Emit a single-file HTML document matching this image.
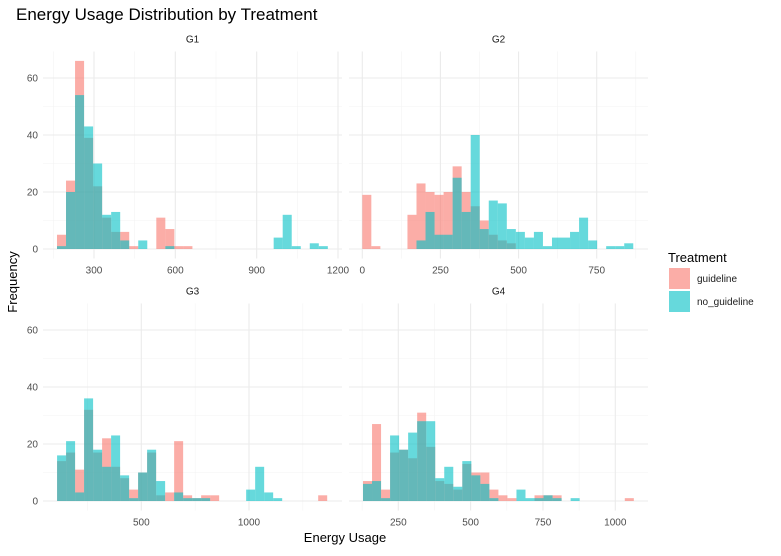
<!DOCTYPE html>
<html><head><meta charset="utf-8"><style>
body{margin:0;background:#fff;}
svg{font-family:"Liberation Sans",Arial,sans-serif;}
</style></head><body>
<svg id="chart" width="781" height="551" viewBox="0 0 781 551">
<text x="16" y="20" font-size="17" fill="#000">Energy Usage Distribution by Treatment</text>
<text x="345" y="542" font-size="13" text-anchor="middle" fill="#000">Energy Usage</text>
<text transform="translate(17,282) rotate(-90)" font-size="13" text-anchor="middle" fill="#000">Frequency</text>
<g>
<text x="668" y="262" font-size="13" fill="#000">Treatment</text>
<rect x="669" y="268" width="21" height="21" fill="rgba(248,118,109,0.6)"/>
<text x="697" y="282" font-size="10" fill="#1a1a1a">guideline</text>
<rect x="669" y="291" width="21" height="21" fill="rgba(0,191,196,0.6)"/>
<text x="697" y="305" font-size="10" fill="#1a1a1a">no_guideline</text>
</g>
<g id="panels"></g>
</svg>
<script>
const panelNames = ["G1","G2","G3","G4"];
const binStarts = [163.5, 0, 109, 128];
const binWidths = [33.3, 28.9, 41.8, 31.2];
const g1Guideline = [5,24,66,39,22,11,6,6,1,0,0,11,7,1,1,0,0,0,0,0,0,0,0,0,0,0,0,0,0,0];
const g1NoGuideline = [1,20,54,43,30,12,13,3,0,3,0,0,1,0,0,0,0,0,0,0,0,0,0,0,4,12,1,0,2,1];
const g2Guideline = [19,1,0,0,0,12,23,20,19,20,29,20,15,10,5,3,2,0,0,0,0,0,0,0,0,0,0,0,0,0];
const g2NoGuideline = [0,0,0,0,0,0,3,13,5,5,25,13,40,7,17,16,7,6,4,6,1,4,4,6,11,3,0,1,1,2];
const g3Guideline = [14,17,11,32,17,22,12,8,4,10,17,2,3,21,2,1,2,2,0,0,0,0,0,0,0,0,0,0,0,2];
const g3NoGuideline = [16,21,3,36,18,12,23,9,1,10,18,7,0,3,1,1,1,0,0,0,0,4,12,3,1,0,0,0,0,0];
const g4Guideline = [7,27,4,17,18,15,31,19,7,6,4,13,10,10,4,2,1,0,0,2,2,2,0,0,0,0,0,0,0,1];
const g4NoGuideline = [6,7,1,23,18,24,28,28,8,12,5,14,9,6,1,0,0,4,1,1,2,1,0,1,0,0,0,0,0,0];
const yTicks = [0,20,40,60];
const yMinor = [10,30,50];
const xMajorTicks = [[300,600,900,1200],[0,250,500,750],[500,1000],[250,500,750,1000]];
const xMinorTicks = [[150,450,750,1050],[125,375,625,875],[250,750,1250],[125,375,625,875]];
const xTickLabels = [["300","600","900","1200"],["0","250","500","750"],["500","1000"],["250","500","750","1000"]];

const guide=[g1Guideline,g2Guideline,g3Guideline,g4Guideline];
const noguide=[g1NoGuideline,g2NoGuideline,g3NoGuideline,g4NoGuideline];
const layout=[
 {x0:43,x1:342,top:51.5,bot:258.5,zeroY:249,ax:300,apx:94,bx:1200,bpx:338},
 {x0:349,x1:648,top:51.5,bot:258.5,zeroY:249,ax:0,apx:362.3,bx:750,bpx:596.7},
 {x0:43,x1:342,top:303.5,bot:510.5,zeroY:501,ax:500,apx:141.3,bx:1000,bpx:249},
 {x0:349,x1:648,top:303.5,bot:510.5,zeroY:501,ax:250,apx:398.3,bx:1000,bpx:615.3}
];
const NS="http://www.w3.org/2000/svg";
const root=document.getElementById('panels');
function mk(tag,attrs,parent){const e=document.createElementNS(NS,tag);for(const k in attrs)e.setAttribute(k,attrs[k]);parent.appendChild(e);return e;}
const yScale=(L,v)=>L.zeroY-v*2.85;
for(let p=0;p<4;p++){
 const L=layout[p];
 const xs=v=>L.apx+(v-L.ax)*(L.bpx-L.apx)/(L.bx-L.ax);
 const g=mk('g',{},root);
 
 
 yMinor.forEach(v=>{const l=mk('line',{x1:L.x0,x2:L.x1,y1:yScale(L,v),y2:yScale(L,v),stroke:'#f3f3f3','stroke-width':0.6},g);
  });
 xMinorTicks[p].forEach(v=>{const x=xs(v);if(x<L.x0||x>L.x1)return;const l=mk('line',{x1:x,x2:x,y1:L.top,y2:L.bot,stroke:'#f3f3f3','stroke-width':0.6},g);
  });
 yTicks.forEach(v=>{const l=mk('line',{x1:L.x0,x2:L.x1,y1:yScale(L,v),y2:yScale(L,v),stroke:'#ebebeb','stroke-width':1.1},g);
  });
 xMajorTicks[p].forEach((v,i)=>{const x=xs(v);const l=mk('line',{x1:x,x2:x,y1:L.top,y2:L.bot,stroke:'#ebebeb','stroke-width':1.1},g);
  
  const t=mk('text',{x:x,y:L.bot+15,'font-size':10,'text-anchor':'middle',fill:'#4d4d4d'},g);t.textContent=xTickLabels[p][i];
  });
 if(p%2===0){yTicks.forEach(v=>{const t=mk('text',{x:38,y:yScale(L,v)+3.5,'font-size':10,'text-anchor':'end',fill:'#4d4d4d'},g);t.textContent=v;
  });}
 const st=mk('text',{x:(L.x0+L.x1)/2,y:L.top-9,'font-size':10,'text-anchor':'middle',fill:'#1a1a1a'},g);st.textContent=panelNames[p];
 
 [[guide[p],'rgba(248,118,109,0.6)','guideline'],[noguide[p],'rgba(0,191,196,0.6)','no-guideline']].forEach(([arr,col,nm])=>{
  arr.forEach((c,i)=>{if(!c)return;const a=binStarts[p]+i*binWidths[p];const b=a+binWidths[p];
   const x1=xs(a),x2=xs(b),y=yScale(L,c);
   const r=mk('rect',{x:x1,y:y,width:x2-x1,height:L.zeroY-y,fill:col},g);
   });
 });
}
</script>
</body></html>
